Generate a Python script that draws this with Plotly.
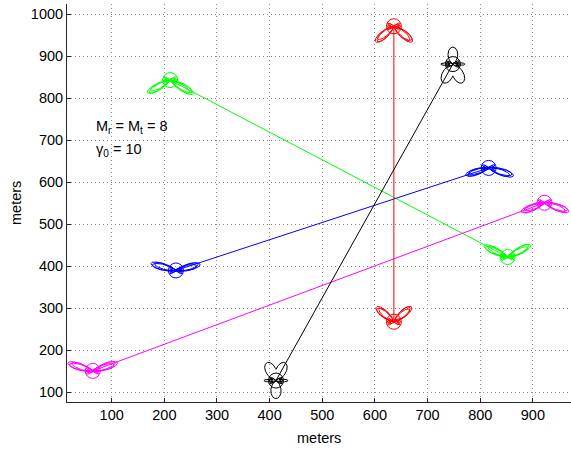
import numpy as np
import plotly.graph_objects as go

# ---- data ----
link_colors = ["#00ff00", "#0000ff", "#ff00ff", "#ff0000", "#000000"]
tx_x = [211, 222, 64, 636, 412]
tx_y = [843, 390, 151, 971, 128]
rx_x = [852, 816, 922, 636, 748]
rx_y = [422, 634, 551, 268, 881]

# beam lobes per node: (direction deg, length px, sharpness)
tx_lobes = [
    [(-31, 27, 24), (-151, 26, 24)],
    [(14, 25, 24), (164, 26, 24)],
    [(18, 26, 24), (162, 26, 24)],
    [(-40, 24, 16), (-140, 24, 16)],
    [(63, 20, 5), (117, 20, 5), (-90, 18, 4), (0, 12, 30), (180, 12, 30)],
]
rx_lobes = [
    [(27, 26, 24), (154, 26, 24)],
    [(-18, 26, 24), (-163, 24, 24)],
    [(-20, 26, 24), (-159, 25, 24)],
    [(40, 23, 16), (140, 23, 16)],
    [(-63, 21, 5), (-117, 21, 5), (90, 17, 4), (0, 12, 30), (180, 12, 30)],
]
star_angles = [0, 180, 25, 155, -25, -155]

x_ticks = [100, 200, 300, 400, 500, 600, 700, 800, 900]
y_ticks = [100, 200, 300, 400, 500, 600, 700, 800, 900, 1000]
x_range = [15.1, 972.4]
y_range = [77, 1024]

W, H = 571, 452
m_l, m_r, m_t, m_b = 67, 0, 4, 50
sx = (W - m_l - m_r) / (x_range[1] - x_range[0])
sy = (H - m_t - m_b) / (y_range[1] - y_range[0])

theta = np.linspace(0, 2 * np.pi, 1441)


def pattern(cx, cy, lobes, dang=0.0, scale=1.0):
    r = np.zeros_like(theta)
    for ang, L, p in lobes:
        c = np.cos(theta - np.radians(ang + dang))
        r = np.maximum(r, scale * L * np.clip(c, 0, None) ** p)
    return cx + r * np.cos(theta) / sx, cy + r * np.sin(theta) / sy


fig = go.Figure()
for i, col in enumerate(link_colors):
    fig.add_trace(go.Scatter(x=[tx_x[i], rx_x[i]], y=[tx_y[i], rx_y[i]], mode="lines",
                             line=dict(color=col, width=1), showlegend=False, hoverinfo="skip"))
    for cx, cy, lobes in [(tx_x[i], tx_y[i], tx_lobes[i]), (rx_x[i], rx_y[i], rx_lobes[i])]:
        variants = [(0, 1.0)] if col == "#000000" else [(0, 1.0), (2.5, 0.93), (-2, 0.86)]
        for dang, sc in variants:
            px, py = pattern(cx, cy, lobes, dang, sc)
            fig.add_trace(go.Scatter(x=px, y=py, mode="lines", line=dict(color=col, width=1),
                                     showlegend=False, hoverinfo="skip"))
        for sc in (1.0, 0.7):
            star = [(a, 7 * sc, 20) for a in star_angles]
            px, py = pattern(cx, cy, star)
            fig.add_trace(go.Scatter(x=px, y=py, mode="lines", line=dict(color=col, width=1),
                                     showlegend=False, hoverinfo="skip"))
    fig.add_trace(go.Scatter(x=[tx_x[i], rx_x[i]], y=[tx_y[i], rx_y[i]], mode="markers",
                             marker=dict(symbol="circle-open", size=15, color=col, line=dict(width=1, color=col)),
                             showlegend=False, hoverinfo="skip"))

axis_common = dict(showgrid=True, gridcolor="#8c8c8c", griddash="1px,3px", gridwidth=1,
                   zeroline=False, showline=True, linecolor="#262626", linewidth=1,
                   ticks="inside", ticklen=4, tickcolor="#262626",
                   tickfont=dict(family="Liberation Sans, Arial, sans-serif", size=14.5, color="#000"))

fig.update_layout(
    width=W, height=H,
    margin=dict(l=m_l, r=m_r, t=m_t, b=m_b),
    paper_bgcolor="white", plot_bgcolor="white",
    xaxis=dict(range=x_range, tickvals=x_ticks, **axis_common),
    yaxis=dict(range=y_range, tickvals=y_ticks, **axis_common),
    font=dict(family="Liberation Sans, Arial, sans-serif", size=14.5, color="#000"),
    annotations=[
        dict(text="meters", xref="paper", yref="paper", x=0.5, y=0, yshift=-36,
             xanchor="center", yanchor="middle", showarrow=False, font=dict(size=14.5)),
        dict(text="meters", xref="paper", yref="paper", x=0, y=0.5, xshift=-51,
             xanchor="center", yanchor="middle", textangle=-90, showarrow=False, font=dict(size=14.5)),
        dict(text="M<sub>r</sub> = M<sub>t</sub> = 8", xref="paper", yref="paper",
             x=(94 - m_l) / (W - m_l), y=(H - m_b - 127) / (H - m_t - m_b), xanchor="left", yanchor="middle",
             showarrow=False, font=dict(size=14.5)),
        dict(text="γ<sub>0</sub> = 10", xref="paper", yref="paper",
             x=(94 - m_l) / (W - m_l), y=(H - m_b - 150) / (H - m_t - m_b), xanchor="left", yanchor="middle",
             showarrow=False, font=dict(size=14.5)),
    ],
)

fig.write_html("out.html", config={"displayModeBar": False},
               post_script="document.body.style.margin='0';document.body.style.overflow='hidden';")
